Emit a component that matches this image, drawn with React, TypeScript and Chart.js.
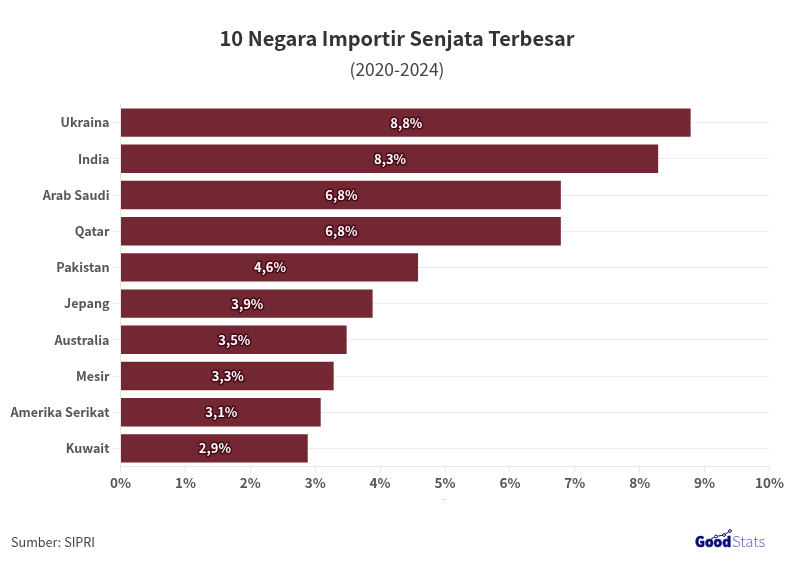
import React, { useRef, useEffect } from 'react';
import { Chart, registerables, type Plugin } from 'chart.js';

Chart.register(...registerables);

const FONT = '"Noto Sans CJK SC", "Noto Sans", sans-serif';

const categories = ['Ukraina', 'India', 'Arab Saudi', 'Qatar', 'Pakistan', 'Jepang', 'Australia', 'Mesir', 'Amerika Serikat', 'Kuwait'];
const shares = [8.8, 8.3, 6.8, 6.8, 4.6, 3.9, 3.5, 3.3, 3.1, 2.9];
const shareLabels = ['8,8%', '8,3%', '6,8%', '6,8%', '4,6%', '3,9%', '3,5%', '3,3%', '3,1%', '2,9%'];

const TITLE = '10 Negara Importir Senjata Terbesar';
const SUBTITLE = '(2020-2024)';
const SOURCE = 'Sumber: SIPRI';

// title block is centred on the whole canvas, not on the plot
const header: Plugin<'bar'> = {
  id: 'header',
  afterDraw(chart) {
    const { ctx } = chart;
    ctx.save();
    ctx.textAlign = 'center';
    ctx.textBaseline = 'middle';
    ctx.font = `700 20px ${FONT}`;
    ctx.fillStyle = '#333333';
    ctx.fillText(TITLE, 397, 38);
    ctx.font = `400 17.4px ${FONT}`;
    ctx.fillStyle = '#444444';
    ctx.fillText(SUBTITLE, 397, 69.5);
    ctx.restore();
  },
};

// value labels in the bars, white with a dark halo
const barLabels: Plugin<'bar'> = {
  id: 'barLabels',
  afterDatasetsDraw(chart) {
    const { ctx } = chart;
    chart.getDatasetMeta(0).data.forEach((bar, i) => {
      const { x, y } = bar.getCenterPoint();
      ctx.save();
      ctx.font = `700 13px ${FONT}`;
      ctx.textAlign = 'center';
      ctx.textBaseline = 'middle';
      ctx.lineJoin = 'round';
      ctx.lineWidth = 3;
      ctx.strokeStyle = 'rgba(70,8,25,0.95)';
      ctx.strokeText(shareLabels[i], x, y);
      ctx.fillStyle = '#ffffff';
      ctx.fillText(shareLabels[i], x, y);
      ctx.restore();
    });
  },
};

// source line and the GoodStats wordmark under the plot
const footer: Plugin<'bar'> = {
  id: 'footer',
  afterDraw(chart) {
    const { ctx } = chart;
    ctx.save();
    ctx.textBaseline = 'alphabetic';
    ctx.textAlign = 'left';
    ctx.font = `400 12.6px ${FONT}`;
    ctx.fillStyle = '#444444';
    ctx.fillText(SOURCE, 11, 546.5);

    ctx.font = `800 13.6px ${FONT}`;
    ctx.fillStyle = '#0c0c7c';
    ctx.strokeStyle = '#0c0c7c';
    ctx.lineWidth = 0.5;
    ctx.fillText('Good', 695, 547);
    ctx.strokeText('Good', 695, 547);
    ctx.font = `300 15px ${FONT}`;
    ctx.fillStyle = '#6a6ac4';
    ctx.fillText('Stats', 732, 547);

    ctx.strokeStyle = '#0c0c7c';
    ctx.lineWidth = 1;
    ctx.beginPath();
    ctx.moveTo(711, 539);
    ctx.lineTo(716, 536.5);
    ctx.lineTo(724, 535);
    ctx.lineTo(730, 531);
    ctx.stroke();
    [[716, 536.5], [724, 535], [730, 531]].forEach(([cx, cy]) => {
      ctx.beginPath();
      ctx.arc(cx, cy, 1.4, 0, Math.PI * 2);
      ctx.fillStyle = '#ffffff';
      ctx.fill();
      ctx.stroke();
    });

    ctx.fillStyle = '#999999';
    ctx.fillRect(444, 499, 1, 1);
    ctx.restore();
  },
};

export default function App() {
  const canvasRef = useRef<HTMLCanvasElement>(null);

  useEffect(() => {
    if (!canvasRef.current) return;
    const chart = new Chart(canvasRef.current, {
      type: 'bar',
      data: {
        labels: categories,
        datasets: [
          {
            data: shares,
            backgroundColor: '#722732',
            borderColor: 'rgba(255,255,255,0.3)',
            borderWidth: 1,
            barPercentage: 0.84,
            categoryPercentage: 1,
          },
        ],
      },
      options: {
        indexAxis: 'y',
        responsive: false,
        animation: false,
        layout: { padding: { top: 104.5, right: 24.5, bottom: 78.5, left: 0 } },
        plugins: {
          legend: { display: false },
          tooltip: { enabled: false },
          title: { display: false },
        },
        scales: {
          x: {
            min: 0,
            max: 10,
            grid: { drawOnChartArea: false, color: '#e6e6e6', tickLength: 6 },
            border: { color: '#e6e6e6' },
            ticks: {
              stepSize: 1,
              maxRotation: 0,
              color: '#555555',
              padding: 2,
              font: { family: FONT, size: 13.5, weight: 700 },
              callback: v => `${v}%`,
            },
            afterFit: scale => { scale.height = 30; },
          },
          y: {
            grid: { color: '#eeeeee', offset: false, tickLength: 8 },
            border: { color: '#e6e6e6' },
            ticks: {
              color: '#555555',
              padding: 3,
              font: { family: FONT, size: 12.6, weight: 700 },
            },
            afterFit: scale => { scale.width = 120.5; },
          },
        },
      },
      plugins: [barLabels, header, footer],
    });
    return () => chart.destroy();
  }, []);

  return (
    <div style={{ position: 'absolute', left: 0, top: 0, width: 794, height: 575 }}>
      <canvas ref={canvasRef} width={794} height={575} role="img" aria-label={TITLE} />
    </div>
  );
}
